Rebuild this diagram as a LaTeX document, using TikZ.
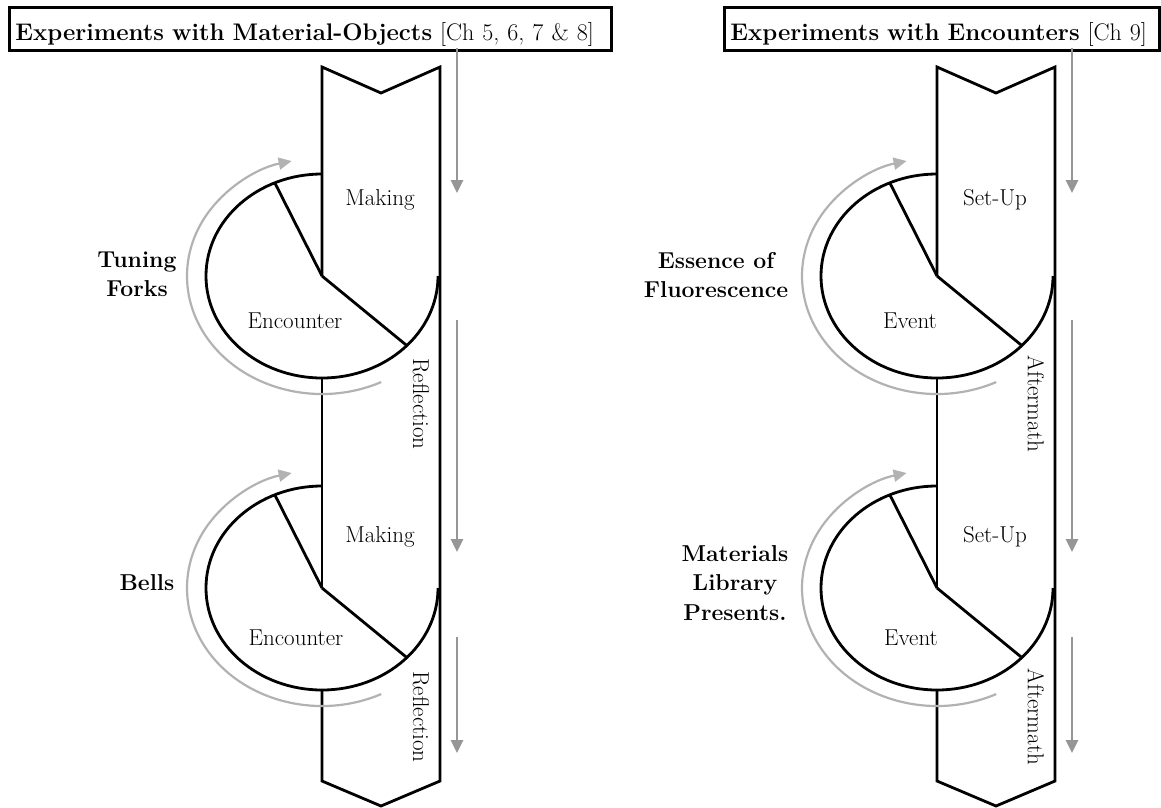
\documentclass[tikz,border=0pt]{standalone}
\usepackage{fontspec}
\usetikzlibrary{arrows.meta}
\definecolor{flowgray}{RGB}{150,150,150}
\definecolor{cyclegray}{RGB}{178,178,178}

% One column: a notched band with two pie-shaped cycles hanging off its left edge
% #1 horizontal shift, #2 name prefix, #3 upper label, #4 lower label, #5 band label
\newcommand\cyclecolumn[5]{%
\begin{scope}[xshift=#1pt]
  \coordinate (#2tl)    at (322,-67);
  \coordinate (#2notch) at (381,-93);
  \coordinate (#2tr)    at (440,-67);
  \coordinate (#2br)    at (440,-781);
  \coordinate (#2tip)   at (381,-806);
  \coordinate (#2bl)    at (322,-781);
  \coordinate (#2ca)    at (322,-276);
  \coordinate (#2cb)    at (322,-588);
  % band outline, broken where the cycles sit
  \draw[outline] (#2ca) -- (#2tl) -- (#2notch) -- (#2tr) -- (#2br) -- (#2tip) -- (#2bl) -- ([yshift=-102pt]#2cb);
  \draw[outline] ([yshift=-102pt]#2ca) -- (#2cb);
  % the two cycles
  \foreach \c in {#2ca,#2cb}{
    \draw[outline] ([yshift=102pt]\c) arc[start angle=90,end angle=360,x radius=116,y radius=102];
    \draw[outline] (\c) -- ++({116*cos(114)},{102*sin(114)});
    \draw[outline] (\c) -- ++({116*cos(-43)},{102*sin(-43)});
    \draw[cyclearrow] ([shift={({135*cos(-64)},{118*sin(-64)})}]\c)
      arc[start angle=-64,end angle=-257,x radius=135,y radius=118];
  }
  % downward flow arrows beside the band
  \coordinate (#2f1s) at (457,-48);  \coordinate (#2f1e) at (457,-193);
  \coordinate (#2f2s) at (457,-320); \coordinate (#2f2e) at (457,-552);
  \coordinate (#2f3s) at (457,-637); \coordinate (#2f3e) at (457,-753);
  \draw[flow] (#2f1s) -- (#2f1e);
  \draw[flow] (#2f2s) -- (#2f2e);
  \draw[flow] (#2f3s) -- (#2f3e);
  % phase labels
  \node[lbl,anchor=base] (#2upA) at (380,-205) {#3};
  \node[lbl,anchor=base] (#2upB) at (380,-542) {#3};
  \node[lbl,anchor=base] (#2lowA) at (295,-328) {#4};
  \node[lbl,anchor=base] (#2lowB) at (296,-645) {#4};
  \node[lbl,rotate=-90] (#2sideA) at (421,-404) {#5};
  \node[lbl,rotate=-90] (#2sideB) at (421,-717) {#5};
\end{scope}}

\begin{document}
\begin{tikzpicture}[x=1pt,y=1pt,
  outline/.style={line width=2.8pt,line join=miter,line cap=butt},
  flow/.style={draw=flowgray,line width=2.6pt,-{Triangle[length=13pt,width=12pt]}},
  cyclearrow/.style={draw=cyclegray,line width=2.2pt,-{Triangle[length=13pt,width=12pt]}},
  lbl/.style={font=\fontsize{23}{28}\selectfont,inner sep=0pt},
  side/.style={font=\fontsize{23}{29.5}\selectfont\bfseries,align=center,inner sep=0pt},
  titlebox/.style={draw,line width=2.6pt,font=\fontsize{24}{28}\selectfont,
    anchor=north west,inner xsep=6pt,inner ysep=4pt,text height=29pt,text depth=6pt,align=left}
]
\useasboundingbox (0,0) rectangle (1161,-807);

\node[titlebox,text width=590pt] (titleL) at (8,-6)
  {\textbf{Experiments with Material-Objects} [Ch 5, 6, 7 \& 8]};
\node[titlebox,text width=423pt] (titleR) at (723,-6)
  {\textbf{Experiments with Encounters} [Ch 9]};

\cyclecolumn{0}{L}{Making}{Encounter}{Reflection}
\cyclecolumn{615}{R}{Set-Up}{Event}{Aftermath}

\node[side] (forks) at (137,-274) {Tuning\\Forks};
\node[side] (bells) at (147,-583) {Bells};
\node[side] (essence) at (716,-275) {Essence of\\Fluorescence};
\node[side] (library) at (735,-583) {Materials\\Library\\Presents.};
\end{tikzpicture}
\end{document}
